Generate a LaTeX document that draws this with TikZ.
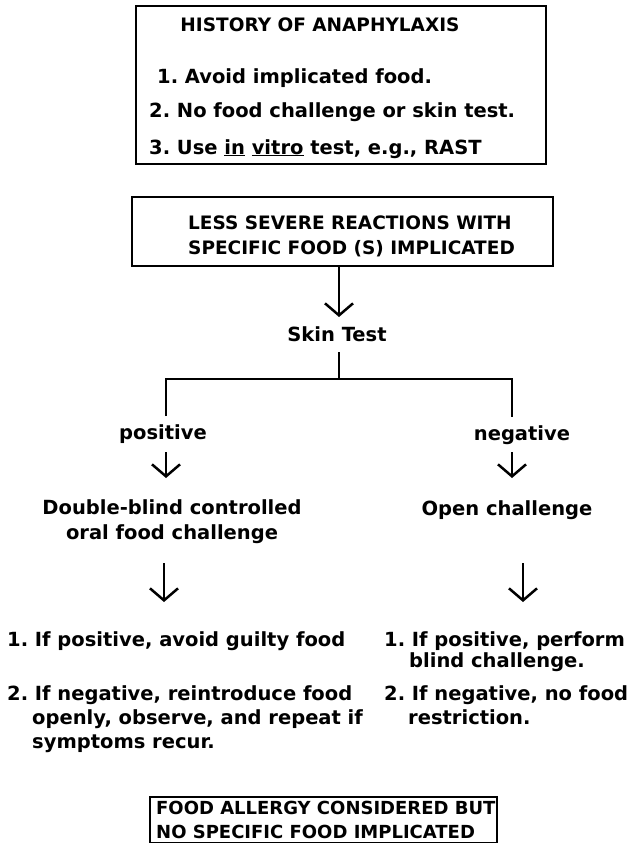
\documentclass[tikz,border=0pt]{standalone}
\usepackage{fontspec}
\setmainfont{DejaVu Sans}
\usetikzlibrary{arrows.meta}
\frenchspacing
\begin{document}
\frenchspacing
\begin{tikzpicture}[x=1pt,y=-1pt,
  txt/.style={inner sep=0pt, font=\fontsize{19.5}{22}\selectfont\bfseries},
  captxt/.style={inner sep=0pt, font=\fontsize{18.5}{22}\selectfont\bfseries},
  lt/.style={txt, anchor=base west},
  ct/.style={txt, anchor=base},
  clt/.style={captxt, anchor=base west},
  cct/.style={captxt, anchor=base},
  boxed/.style={draw, line width=2.5pt, inner sep=0pt},
  ln/.style={line width=2.5pt},
  arr/.style={line width=2.5pt, -{Straight Barb[length=12pt,width=28pt,line width=2.5pt]}}]
\useasboundingbox (0,0) rectangle (630,843);

% top box
\node[boxed, minimum width=410pt, minimum height=158pt] (hist) at (341,85) {};
\node[cct] (histt) at (320,32) {HISTORY OF ANAPHYLAXIS};
\node[lt] (h1) at (157,84) {1. Avoid implicated food.};
\node[lt] (h2) at (149,117) {2. No food challenge or skin test.};
\node[lt] (h3) at (149,154) {3. Use \underline{in} \underline{vitro} test, e.g., RAST};

% second box
\node[boxed, minimum width=421pt, minimum height=69pt] (severe) at (342.5,231.5) {};
\node[clt] (s1) at (188,229) {LESS SEVERE REACTIONS WITH};
\node[clt] (s2) at (188,254) {SPECIFIC FOOD (S) IMPLICATED};

\coordinate (a1e) at (339,317);
\draw[arr] (severe.south -| a1e) -- (a1e);
\node[ct] (skin) at (337,341) {Skin Test};

% tree
\coordinate (stemtop) at (339,352);
\coordinate (stembot) at (339,379);
\coordinate (lcorner) at (166,379);
\coordinate (rcorner) at (512,379);
\coordinate (lend) at (166,416);
\coordinate (rend) at (512,417);
\draw[ln] (stemtop) -- (stembot);
\draw[ln] (lend) -- (lcorner) -- (rcorner) -- (rend);

\node[ct] (pos) at (163,439) {positive};
\node[ct] (neg) at (522,440) {negative};

\coordinate (pa) at (166,452); \coordinate (pae) at (166,478);
\coordinate (na) at (512,452); \coordinate (nae) at (512,478);
\draw[arr] (pa) -- (pae);
\draw[arr] (na) -- (nae);

\node[ct] (db1) at (172,514) {Double-blind controlled};
\node[ct] (db2) at (172,539) {oral food challenge};
\node[ct] (open) at (507,515) {Open challenge};

\coordinate (pb) at (164,563); \coordinate (pbe) at (164,602);
\coordinate (nb) at (523,563); \coordinate (nbe) at (523,602);
\draw[arr] (pb) -- (pbe);
\draw[arr] (nb) -- (nbe);

% left results
\node[lt] (l1) at (7,646) {1. If positive, avoid guilty food};
\node[lt] (l2) at (7,700) {2. If negative, reintroduce food};
\node[lt] (l3) at (32,724) {openly, observe, and repeat if};
\node[lt] (l4) at (32,748) {symptoms recur.};

% right results
\node[lt] (r1) at (384,646) {1. If positive, perform};
\node[lt] (r2) at (409,667) {blind challenge.};
\node[lt] (r3) at (384,700) {2. If negative, no food};
\node[lt] (r4) at (408,724) {restriction.};

% bottom box
\node[boxed, minimum width=347pt, minimum height=46pt] (noimp) at (323.5,820) {};
\node[clt, font=\fontsize{18}{22}\selectfont\bfseries] (b1) at (156,814) {FOOD ALLERGY CONSIDERED BUT};
\node[clt, font=\fontsize{18}{22}\selectfont\bfseries] (b2) at (156,838) {NO SPECIFIC FOOD IMPLICATED};
\end{tikzpicture}
\end{document}
